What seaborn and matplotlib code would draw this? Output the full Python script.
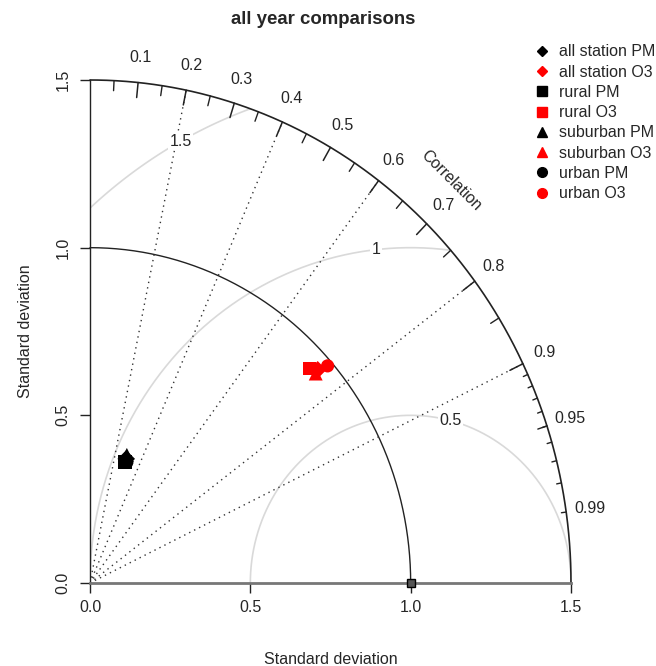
import numpy as np
import pandas as pd
import matplotlib
matplotlib.use("Agg")
import matplotlib.pyplot as plt
from matplotlib.lines import Line2D
import seaborn as sns

# ---- data -------------------------------------------------------------
labels = ["all station PM", "all station O3", "rural PM", "rural O3",
          "suburban PM", "suburban O3", "urban PM", "urban O3"]
std_dev = [0.387, 0.953, 0.377, 0.937, 0.399, 0.941, 0.378, 0.984]
correlation = [0.292, 0.745, 0.289, 0.731, 0.288, 0.748, 0.304, 0.753]
colors = ["black", "red", "black", "red", "black", "red", "black", "red"]
markers = ["D", "D", "s", "s", "^", "^", "o", "o"]

ref_sd = 1.0
max_sd = 1.5
corr_lines = [0.2, 0.4, 0.6, 0.8, 0.9]
corr_labels = [0.1, 0.2, 0.3, 0.4, 0.5, 0.6, 0.7, 0.8, 0.9, 0.95, 0.99]
rms_levels = [0.5, 1.0, 1.5]
sd_ticks = [0.0, 0.5, 1.0, 1.5]

df = pd.DataFrame({"label": labels, "sd": std_dev, "cor": correlation})
df["x"] = df["sd"] * df["cor"]
df["y"] = df["sd"] * np.sqrt(1 - df["cor"] ** 2)

# ---- figure -----------------------------------------------------------
sns.set_theme(style="white")
plt.rcParams["font.family"] = ["Liberation Sans", "DejaVu Sans"]
FS = 11.5

W, H = 656, 666
fig = plt.figure(figsize=(W / 100, H / 100), dpi=100)
ax = fig.add_axes([90 / W, 1 - 583 / H, (571 - 90) / W, (583 - 80) / H])
ax.set_xlim(0, max_sd)
ax.set_ylim(0, max_sd)

# outer correlation arc and reference sd arc
t = np.linspace(0, np.pi / 2, 400)
ax.plot(max_sd * np.cos(t), max_sd * np.sin(t), color="#222222", lw=1.2, clip_on=False)
ax.plot(ref_sd * np.cos(t), ref_sd * np.sin(t), color="#222222", lw=1.0, clip_on=False)

# centred RMS difference contours
for g, lp in zip(rms_levels, [45, 57, 70]):
    tt = np.linspace(0, np.pi, 800)
    xc = ref_sd + g * np.cos(tt)
    yc = g * np.sin(tt)
    keep = (xc >= 0) & (xc ** 2 + yc ** 2 <= max_sd ** 2)
    ax.plot(xc[keep], yc[keep], color="#d9d9d9", lw=1.2, zorder=1)
    ang = 0.03 * (lp - 1)
    lx, ly = ref_sd + g * np.cos(ang), g * np.sin(ang)
    ax.text(lx, ly, f"{g:g}", ha="center", va="center", fontsize=FS, zorder=4,
            bbox=dict(facecolor="white", edgecolor="none", pad=1.0))

# dotted correlation rays
for c in corr_lines:
    ax.plot([0, max_sd * c], [0, max_sd * np.sqrt(1 - c ** 2)],
            color="#333333", lw=1.0, ls=(0, (1, 3)), zorder=2)

# tick marks on the correlation arc
def arc_ticks(vals, frac, lw):
    for c in vals:
        a = np.arccos(c)
        ax.plot([np.cos(a) * max_sd, np.cos(a) * frac * max_sd],
                [np.sin(a) * max_sd, np.sin(a) * frac * max_sd],
                color="#222222", lw=lw, clip_on=False)

arc_ticks(np.arange(0.1, 0.91, 0.1), 0.97, 1.1)
arc_ticks(np.arange(0.05, 0.96, 0.1), 0.98, 1.0)
arc_ticks(np.arange(0.91, 0.995, 0.01), 0.99, 1.0)

for c in corr_labels:
    a = np.arccos(c)
    ax.text(np.cos(a) * 1.05 * max_sd, np.sin(a) * 1.05 * max_sd, f"{c:g}",
            ha="center", va="center", fontsize=FS, clip_on=False)

ax.text(1.125, 1.2, "Correlation", rotation=-45, ha="center", va="center",
        fontsize=FS, rotation_mode="anchor")

# reference point
ax.plot([ref_sd], [0], marker="s", ms=6, mfc="#555555", mec="black",
        mew=1.0, clip_on=False, zorder=6)

# model points
palette = dict(zip(labels, colors))
sizes = {"D": 80, "s": 90, "^": 100, "o": 90}
for lab, m in zip(labels, markers):
    sub = df[df["label"] == lab]
    sns.scatterplot(data=sub, x="x", y="y", color=palette[lab], marker=m,
                    s=sizes[m], edgecolor="none", legend=False, ax=ax,
                    zorder=5, clip_on=False)

# axes styling
sns.despine(ax=ax, top=True, right=True)
ax.spines["left"].set_color("#222222")
ax.spines["left"].set_linewidth(1.0)
ax.spines["bottom"].set_color("#777777")
ax.spines["bottom"].set_linewidth(2.0)
ax.set_xticks(sd_ticks)
ax.set_yticks(sd_ticks)
ax.set_xticklabels([f"{v:.1f}" for v in sd_ticks], fontsize=FS)
ax.set_yticklabels([f"{v:.1f}" for v in sd_ticks], fontsize=FS,
                   rotation=90, va="center")
ax.tick_params(axis="both", which="major", direction="out", length=7,
               width=1.0, color="#222222", bottom=True, left=True)
ax.tick_params(axis="x", pad=5)
ax.tick_params(axis="y", pad=7)
ax.set_xlabel("Standard deviation", fontsize=FS, labelpad=27)
ax.set_ylabel("Standard deviation", fontsize=FS, labelpad=16)
ax.grid(False)

fig.text(323 / W, 1 - 20 / H, "all year comparisons", ha="center",
         va="center", fontsize=13.4, fontweight="bold")

# legend
ms_map = {"D": 5, "s": 6.5, "^": 7, "o": 7}
handles = [Line2D([], [], ls="none", marker=m, color=c, ms=ms_map[m])
           for m, c in zip(markers, colors)]
fig.legend(handles, labels, loc="upper left",
           bbox_to_anchor=(527 / W, 1 - 38 / H), frameon=False, fontsize=FS,
           handletextpad=0.5, labelspacing=0.33, handlelength=1.1,
           borderaxespad=0)

fig.savefig("out.png", dpi=100)
